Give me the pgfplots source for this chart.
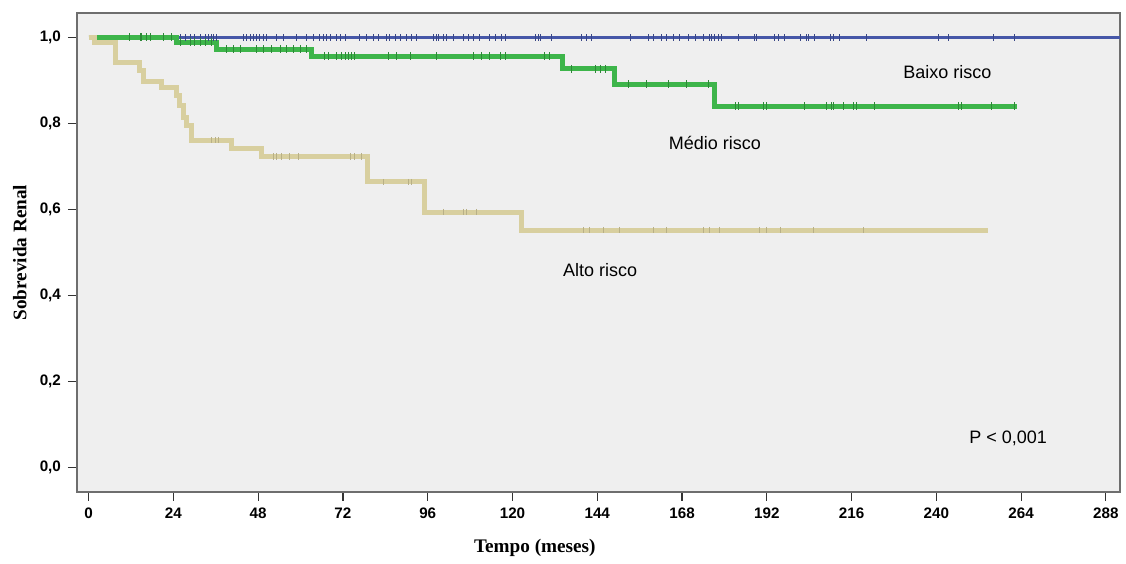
\documentclass[border=0pt]{standalone}
\usepackage{fontspec}
\setmainfont{Liberation Sans}
\newfontfamily\timesfont{Liberation Serif}
\usepackage{pgfplots}
\pgfplotsset{compat=1.18}
\definecolor{plotbg}{HTML}{EFEFEF}
\definecolor{frame}{HTML}{6E6E6E}
\definecolor{baixo}{HTML}{4657A8}
\definecolor{medio}{HTML}{3DB54A}
\definecolor{alto}{HTML}{D8CF9F}

\begin{document}
\begin{tikzpicture}
\begin{axis}[
    scale only axis,
    width=521.5pt, height=239.5pt,
    xmin=-3.3, xmax=292, ymin=-0.057, ymax=1.057,
    clip=false,
    axis background/.style={fill=plotbg},
    axis line style={frame, line width=0.75pt},
    xtick={0,24,...,288},
    ytick={0,0.2,0.4,0.6,0.8,1},
    tick pos=left, tick align=outside,
    major tick length=4.5pt,
    tick style={black!80, line width=0.6pt},
    tick label style={font=\fontsize{7.6}{9}\selectfont\bfseries},
    /pgf/number format/assume math mode=true,
    yticklabel style={/pgf/number format/.cd, fixed, fixed zerofill, precision=1, use comma},
    xlabel={Tempo (meses)},
    ylabel={Sobrevida Renal},
    label style={font=\timesfont\bfseries\fontsize{9.6}{11}\selectfont},
    xlabel style={at={(axis description cs:0.439,-0.117)}, anchor=center},
    ylabel style={at={(axis description cs:-0.0547,0.5)}, anchor=center},
]
% Baixo risco
\addplot[baixo, line width=1.5pt, const plot] coordinates {(0,1) (292,1)};
\addplot[baixo!80!black, only marks, mark=|, mark size=1.6pt, mark options={line width=0.5pt}] coordinates {
(25.9,1)(27.3,1)(28.7,1)(30.1,1)(31.6,1)(33.0,1)(33.9,1)(34.9,1)(35.3,1)(36.3,1)
(43.8,1)(44.8,1)(45.7,1)(46.6,1)(47.6,1)(48.5,1)(49.5,1)(50.4,1)(53.3,1)(55.1,1)
(58.9,1)(61.8,1)(63.6,1)(65.5,1)(66.5,1)(67.4,1)(68.4,1)(70.2,1)(71.2,1)(72.6,1)
(76.8,1)(78.7,1)(80.6,1)(82.0,1)(84.4,1)(85.3,1)(86.8,1)(88.2,1)(90.1,1)(91.5,1)
(92.9,1)(97.6,1)(98.6,1)(99.0,1)(100.4,1)(101.4,1)(103.3,1)(106.1,1)(107.5,1)(108.9,1)
(110.8,1)(113.6,1)(115.1,1)(117.0,1)(117.9,1)(126.4,1)(127.3,1)(127.8,1)(131.1,1)(139.6,1)
(141.0,1)(142.4,1)(153.3,1)(158.5,1)(159.9,1)(162.2,1)(163.7,1)(165.5,1)(167.4,1)(169.8,1)
(171.7,1)(174.0,1)(175.9,1)(176.4,1)(177.3,1)(178.3,1)(179.2,1)(183.9,1)(188.6,1)(189.1,1)
(194.3,1)(195.2,1)(197.1,1)(201.4,1)(203.3,1)(203.7,1)(205.6,1)(209.9,1)(210.8,1)(212.7,1)
(220.3,1)(240.5,1)(243.4,1)(256.1,1)(262.2,1)};
% Medio risco
\addplot[medio, line width=2.5pt, const plot] coordinates {
(0,1)(25.0,0.989)(36.3,0.973)(63.2,0.956)(134.2,0.927)(149.0,0.891)(177.3,0.840)(262.7,0.840)};
\addplot[medio!75!black, only marks, mark=|, mark size=2pt, mark options={line width=0.5pt}] coordinates {
(11.7,1)(14.6,1)(15.0,1)(16.5,1)(17.4,1)(21.2,1)(23.5,1)
(25.9,0.989)(28.7,0.989)(30.1,0.989)(31.6,0.989)(33.0,0.989)(34.9,0.989)
(39.1,0.973)(41.0,0.973)(42.9,0.973)(47.6,0.973)(49.5,0.973)(51.8,0.973)(54.2,0.973)(56.1,0.973)(58.0,0.973)(59.9,0.973)(61.8,0.973)
(66.9,0.956)(67.9,0.956)(70.2,0.956)(71.7,0.956)(72.6,0.956)(73.5,0.956)(74.5,0.956)(75.4,0.956)(84.9,0.956)(87.2,0.956)
(91.0,0.956)(98.6,0.956)(108.9,0.956)(111.3,0.956)(113.6,0.956)(116.5,0.956)(117.9,0.956)(129.2,0.956)(130.6,0.956)
(136.8,0.927)(143.4,0.927)(144.8,0.927)(146.2,0.927)
(152.8,0.891)(158.0,0.891)(164.1,0.891)(169.3,0.891)(175.4,0.891)
(183.0,0.840)(183.9,0.840)(191.0,0.840)(192.0,0.840)(202.8,0.840)(208.9,0.840)(210.4,0.840)(210.8,0.840)
(213.6,0.840)(216.5,0.840)(217.4,0.840)(222.6,0.840)(246.2,0.840)(247.2,0.840)(255.6,0.840)(262.2,0.840)};
% Alto risco
\addplot[alto, line width=2.5pt, const plot] coordinates {
(0,1)(1.8,0.988)(7.5,0.943)(14.3,0.924)(15.5,0.898)(20.7,0.883)(25.0,0.866)(25.7,0.843)
(26.8,0.815)(27.8,0.796)(29.2,0.761)(40.5,0.742)(48.8,0.723)(79.0,0.664)(95.2,0.594)
(122.5,0.552)(254.6,0.552)};
\addplot[alto!85!black, only marks, mark=|, mark size=1.6pt, mark options={line width=0.5pt}] coordinates {
(34.9,0.761)(35.8,0.761)(36.7,0.761)
(52.3,0.723)(53.3,0.723)(54.7,0.723)(57.0,0.723)(59.4,0.723)(74.0,0.723)(75.4,0.723)(77.3,0.723)
(83.4,0.664)(90.5,0.664)(91.5,0.664)
(100.4,0.594)(106.1,0.594)(107.1,0.594)(109.9,0.594)
(140.0,0.552)(141.9,0.552)(145.7,0.552)(150.4,0.552)(159.9,0.552)(163.7,0.552)(174.0,0.552)
(175.9,0.552)(178.7,0.552)(190.0,0.552)(191.9,0.552)(195.8,0.552)(205.2,0.552)(219.3,0.552)};
\node[font=\fontsize{9}{11}\selectfont] at (axis cs:243.1,0.919) {Baixo risco};
\node[font=\fontsize{9}{11}\selectfont] at (axis cs:177.3,0.754) {Médio risco};
\node[font=\fontsize{9}{11}\selectfont] at (axis cs:144.8,0.459) {Alto risco};
\node[font=\fontsize{9}{11}\selectfont] at (axis cs:260.3,0.068) {P < 0,001};
\coordinate (bbsw) at (rel axis cs:-0.0738,-0.1399);
\coordinate (bbne) at (rel axis cs:1.00575,1.0271);
\end{axis}
\path (bbsw) rectangle (bbne);
\end{tikzpicture}
\end{document}
